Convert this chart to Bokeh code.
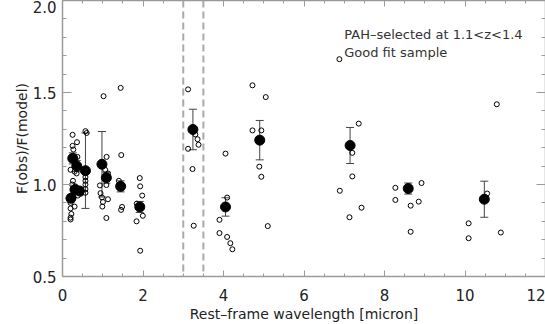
from bokeh.plotting import figure
from bokeh.models import (Range1d, FixedTicker, LinearAxis, Span, Whisker, TeeHead,
                          ColumnDataSource, CustomJSTickFormatter, Title)
from bokeh.core.properties import value
from bokeh.embed import file_html
from bokeh.resources import INLINE

# ---------------- data ----------------
# binned / median points with error bars
mean_x = [0.21, 0.255, 0.31, 0.355, 0.42, 0.57, 0.98, 1.09, 1.445, 1.92,
          3.24, 4.05, 4.90, 7.145, 8.59, 10.48]
mean_y = [0.925, 1.142, 0.972, 1.100, 0.965, 1.075, 1.110, 1.037, 0.990, 0.878,
          1.299, 0.878, 1.241, 1.212, 0.978, 0.920]
mean_err = [0.02, 0.03, 0.02, 0.03, 0.02, 0.205, 0.178, 0.03, 0.03, 0.03,
            0.11, 0.05, 0.107, 0.098, 0.03, 0.098]

# individual measurements (open circles)
obs_x = [0.25, 0.36, 0.25, 0.27, 0.37, 0.20, 0.30, 0.35, 0.26, 0.24, 0.32, 0.46, 0.38,
         0.20, 0.20, 0.22, 0.20, 0.20, 0.27, 0.30,
         0.57, 0.60, 0.57, 0.57, 0.57, 0.57, 0.57,
         1.02, 1.095, 1.06, 1.13, 0.93, 1.09, 0.945, 0.98, 1.005, 0.99, 1.09, 1.13,
         1.445, 1.46, 1.40, 1.48, 1.455,
         1.92, 1.93, 1.98, 1.845, 1.995, 1.84, 1.93,
         3.12, 3.30, 3.355, 3.38, 3.12, 3.23, 3.26,
         4.72, 5.05, 4.72, 4.94, 4.05, 4.89, 4.94, 4.09, 3.90, 3.90, 4.09, 4.17, 4.22, 5.10,
         6.88, 7.36, 7.20, 7.20, 6.89, 7.43, 7.13,
         8.27, 8.27, 8.92, 8.65, 8.85, 8.65,
         10.79, 10.55, 10.09, 10.09, 10.89]
obs_y = [1.27, 1.23, 1.21, 1.19, 1.15, 1.08, 1.07, 1.06, 1.02, 1.00, 0.99, 0.95, 0.94,
         0.90, 0.87, 0.84, 0.82, 0.81, 0.93, 0.88,
         1.29, 1.28, 1.04, 1.02, 1.00, 0.975, 0.955,
         1.48, 1.15, 1.08, 1.06, 0.995, 0.997, 0.953, 0.93, 0.905, 0.88, 0.818, 0.92,
         1.525, 1.16, 1.02, 0.878, 0.862,
         1.035, 0.99, 0.94, 0.896, 0.83, 0.80, 0.64,
         1.517, 1.272, 1.246, 1.216, 1.194, 1.084, 0.776,
         1.539, 1.475, 1.294, 1.294, 1.168, 1.097, 1.042, 0.929, 0.808, 0.736, 0.715,
         0.681, 0.648, 0.774,
         1.681, 1.331, 1.172, 1.044, 0.966, 0.874, 0.822,
         0.982, 0.916, 1.008, 0.885, 0.907, 0.743,
         1.436, 0.951, 0.789, 0.708, 0.739]

dashed_x = [3.0, 3.5]

x_ticks = [0, 2, 4, 6, 8, 10, 12]
x_minor = [i * 0.5 for i in range(25)]
y_ticks = [0.5, 1.0, 1.5, 2.0]
y_tick_labels = ["0.5", "1.0", "1.5", "2.0"]
y_minor = [round(0.5 + i * 0.1, 2) for i in range(16)]

note_x = [7.0, 7.0]
note_y = [1.814, 1.719]
note_text = ["PAH\u2013selected at 1.1<z<1.4", "Good fit sample"]

x_title = "Rest\u2013frame wavelength [micron]"
y_title = "F(obs)/F(model)"

# ---------------- figure ----------------
AX = "#9a9a9a"
TXT = "#222222"
FONT = "DejaVu Sans"

p = figure(width=545, height=324, output_backend="svg", toolbar_location=None,
           x_range=Range1d(0, 12), y_range=Range1d(0.5, 2.0),
           min_border_left=62, min_border_right=0, min_border_top=0, min_border_bottom=48)
p.xgrid.visible = False
p.ygrid.visible = False
p.outline_line_color = None
p.background_fill_color = "white"
p.border_fill_color = "white"


def style_axis(ax, ticks, minor, labels=True):
    ax.ticker = FixedTicker(ticks=ticks, minor_ticks=minor)
    ax.axis_line_color = AX
    ax.axis_line_width = 1.5
    ax.major_tick_line_color = AX
    ax.minor_tick_line_color = AX
    ax.major_tick_out = 0
    ax.minor_tick_out = 0
    ax.major_label_text_color = TXT
    ax.major_label_text_font = FONT
    ax.major_label_text_font_size = "15px"
    ax.axis_label_text_color = TXT
    ax.axis_label_text_font = FONT
    ax.axis_label_text_font_size = "14px"
    ax.axis_label_text_font_style = "normal"
    if not labels:
        ax.formatter = CustomJSTickFormatter(code="return ''")
        ax.major_label_text_font_size = "1px"
        ax.major_label_standoff = 0
        ax.axis_label_standoff = 0


xa = p.xaxis[0]
style_axis(xa, x_ticks, x_minor)
xa.major_tick_in = 6
xa.minor_tick_in = 3
xa.major_label_standoff = 12

ya = p.yaxis[0]
style_axis(ya, y_ticks, y_minor)
ya.major_tick_in = 9
ya.minor_tick_in = 4
ya.major_label_standoff = 6
ya.major_label_overrides = dict(zip(y_ticks, y_tick_labels))
ya.axis_label = y_title
ya.axis_label_standoff = 0

top = LinearAxis()
style_axis(top, x_ticks, x_minor, labels=False)
top.major_tick_in = 6
top.minor_tick_in = 3
p.add_layout(top, "above")

right = LinearAxis()
style_axis(right, y_ticks, y_minor, labels=False)
right.major_tick_in = 9
right.minor_tick_in = 4
p.add_layout(right, "right")

# x-axis title in the bottom panel, under the tick labels
xt = Title(text=x_title, align="center", text_font=FONT, text_font_size="14px",
           text_color=TXT, text_font_style="normal", standoff=0, offset=0)
p.add_layout(xt, "below")

for xv in dashed_x:
    p.add_layout(Span(location=xv, dimension="height", line_color="#aaaaaa",
                      line_width=2, line_dash="7 4"))

# open circles
p.scatter(obs_x, obs_y, marker="circle", size=5, fill_color=None,
          line_color="black", line_width=1)

# error bars
src = ColumnDataSource(dict(
    x=mean_x,
    y=mean_y,
    lo=[a - b for a, b in zip(mean_y, mean_err)],
    hi=[a + b for a, b in zip(mean_y, mean_err)],
))
w = Whisker(source=src, base="x", lower="lo", upper="hi",
            line_color="#444444", line_width=1,
            upper_head=TeeHead(size=8, line_color="#444444", line_width=1),
            lower_head=TeeHead(size=8, line_color="#444444", line_width=1))
p.add_layout(w)

p.scatter("x", "y", source=src, marker="circle", size=10, fill_color="black",
          line_color="black")

p.text(note_x, note_y, text=note_text, text_font=value(FONT), text_font_size="13px",
       text_color="#333333", text_align="left", text_baseline="middle")

open("out.html", "w").write(file_html(p, INLINE))
